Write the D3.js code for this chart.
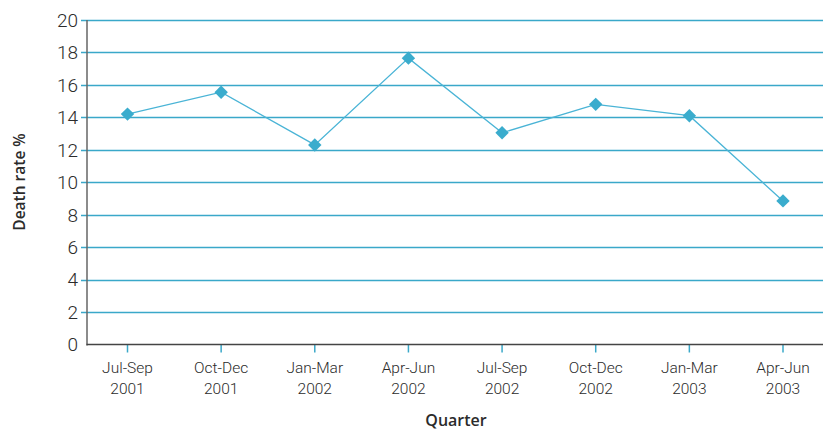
<!DOCTYPE html>
<html>
<head>
<meta charset="utf-8">
<script src="https://cdn.jsdelivr.net/npm/d3@7"></script>
<style>
  html, body { margin: 0; padding: 0; background: #fff; }
  svg { display: block; }
</style>
</head>
<body>
<svg id="chart" width="823" height="430"></svg>
<script>
// Quarterly death rate (%)
const quarters = ["Jul-Sep 2001", "Oct-Dec 2001", "Jan-Mar 2002", "Apr-Jun 2002",
                  "Jul-Sep 2002", "Oct-Dec 2002", "Jan-Mar 2003", "Apr-Jun 2003"];
const deathRate = [14.2, 15.55, 12.3, 17.65, 13.05, 14.8, 14.1, 8.85];
const yTicks = [0, 2, 4, 6, 8, 10, 12, 14, 16, 18, 20];

const svg = d3.select("#chart");
const plotLeft = 87, plotRight = 823, plotTop = 20, plotBottom = 344.5;

const x = d3.scalePoint().domain(quarters).range([127.5, 783]);
const y = d3.scaleLinear().domain([0, 20]).range([plotBottom, plotTop]);

const gridColor = "#3aa8c9";
const lineColor = "#4ab4d6";
const axisColor = "#444";
const textColor = "#2b2b2b";

// horizontal gridlines (extend slightly left as tick marks)
svg.append("g")
  .selectAll("line")
  .data(yTicks.filter(d => d > 0))
  .join("line")
  .attr("x1", plotLeft - 6)
  .attr("x2", plotRight)
  .attr("y1", d => Math.round(y(d)) + 0.5)
  .attr("y2", d => Math.round(y(d)) + 0.5)
  .attr("stroke", gridColor)
  .attr("stroke-width", 1.6);

// y tick labels
svg.append("g")
  .selectAll("text")
  .data(yTicks)
  .join("text")
  .attr("x", plotLeft - 9)
  .attr("y", d => y(d))
  .attr("dy", "0.36em")
  .attr("text-anchor", "end")
  .attr("font-family", "Roboto, 'Open Sans', sans-serif")
  .attr("font-weight", 300)
  .attr("font-size", 19)
  .attr("fill", textColor)
  .text(d => d);

// x tick marks
svg.append("g")
  .selectAll("line")
  .data(quarters)
  .join("line")
  .attr("x1", d => x(d))
  .attr("x2", d => x(d))
  .attr("y1", plotBottom)
  .attr("y2", plotBottom + 8)
  .attr("stroke", gridColor)
  .attr("stroke-width", 1.5);

// axis lines
svg.append("line")
  .attr("x1", plotLeft).attr("x2", plotLeft)
  .attr("y1", plotTop).attr("y2", plotBottom + 1)
  .attr("stroke", "#666").attr("stroke-width", 1.5);
svg.append("line")
  .attr("x1", plotLeft - 0.5).attr("x2", plotRight)
  .attr("y1", plotBottom).attr("y2", plotBottom)
  .attr("stroke", axisColor).attr("stroke-width", 1.5);

// x category labels (two lines)
const xl = svg.append("g")
  .selectAll("text")
  .data(quarters)
  .join("text")
  .attr("x", d => x(d))
  .attr("y", 373)
  .attr("text-anchor", "middle")
  .attr("font-family", "Roboto, 'Open Sans', sans-serif")
  .attr("font-weight", 300)
  .attr("font-size", 15.5)
  .attr("fill", textColor);
xl.append("tspan").attr("x", d => x(d)).text(d => d.split(" ")[0]);
xl.append("tspan").attr("x", d => x(d)).attr("dy", 21).text(d => d.split(" ")[1]);

// data line
const line = d3.line()
  .x((d, i) => x(quarters[i]))
  .y(d => y(d));
svg.append("path")
  .datum(deathRate)
  .attr("d", line)
  .attr("fill", "none")
  .attr("stroke", lineColor)
  .attr("stroke-width", 1.3);

// diamond markers
const diamond = d3.symbol().type(d3.symbolDiamond2).size(115);
svg.append("g")
  .selectAll("path")
  .data(deathRate)
  .join("path")
  .attr("transform", (d, i) => `translate(${x(quarters[i])},${y(d)})`)
  .attr("d", diamond)
  .attr("fill", "#3aaccd");

// axis titles
svg.append("text")
  .attr("transform", "translate(25,182) rotate(-90)")
  .attr("text-anchor", "middle")
  .attr("font-family", "'Open Sans', sans-serif")
  .attr("font-weight", 600)
  .attr("font-size", 15.5)
  .attr("fill", textColor)
  .text("Death rate %");

svg.append("text")
  .attr("x", 456)
  .attr("y", 426)
  .attr("text-anchor", "middle")
  .attr("font-family", "'Open Sans', sans-serif")
  .attr("font-weight", 600)
  .attr("font-size", 16)
  .attr("fill", textColor)
  .text("Quarter");
</script>
</body>
</html>
